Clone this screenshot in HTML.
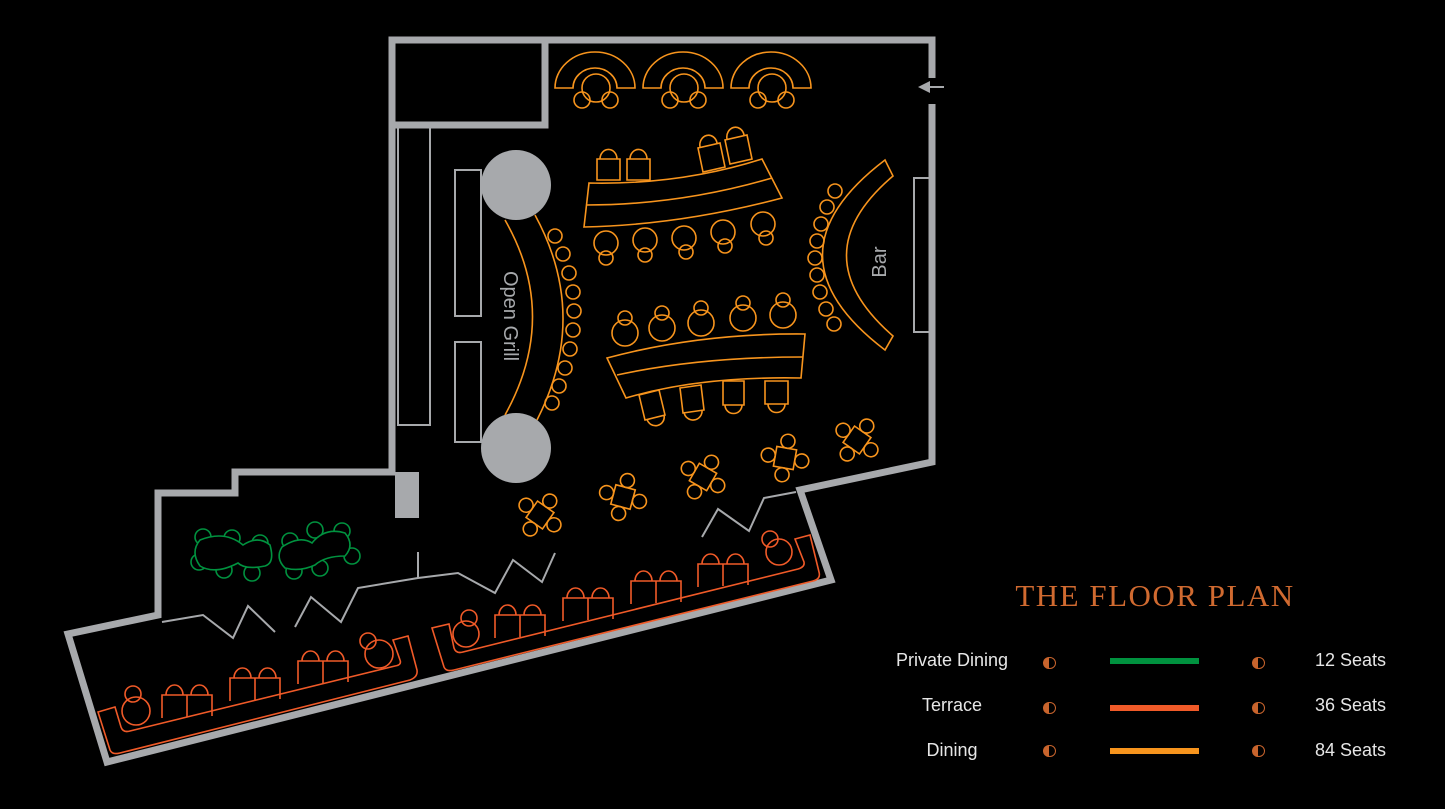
<!DOCTYPE html>
<html><head><meta charset="utf-8"><style>
html,body{margin:0;padding:0;background:#000;}
svg{display:block}
</style></head><body>
<svg width="1445" height="809" viewBox="0 0 1445 809" xmlns="http://www.w3.org/2000/svg">
<defs>
<g id="four"><rect x="-10" y="-10" width="20" height="20"/><circle cx="0" cy="-17" r="7"/><circle cx="0" cy="17" r="7"/><circle cx="-17" cy="0" r="7"/><circle cx="17" cy="0" r="7"/></g>
<g id="pair"><path d="M0,23 L0,0 L25,0 L25,22 M25,0 L50,0 L50,21 M4,0 A8.5,10 0 0 1 21,0 M29,0 A8.5,10 0 0 1 46,0"/></g>
</defs>
<rect width="1445" height="809" fill="#000"/>
<!-- walls -->
<g fill="none" stroke="#a7a9ac" stroke-width="7" stroke-linejoin="miter">
<path d="M932,78 L932,40 L392,40 L392,472 L235,472 L235,493 L158,493 L158,615 L68,634 L107,762 L831,580 L800,490 L932,462 L932,104"/>
<path d="M392,125 L545,125 L545,40"/>
</g>
<rect x="395" y="472" width="24" height="46" fill="#a7a9ac"/>
<g fill="none" stroke="#a7a9ac" stroke-width="2">
<rect x="398" y="126" width="32" height="299"/>
<rect x="455" y="170" width="26" height="146"/>
<rect x="455" y="342" width="26" height="100"/>
<rect x="914" y="178" width="18" height="154"/>
<path d="M162,622 L203,615 L233,638 L248,606 L275,632"/>
<path d="M295,627 L311,597 L341,622 L358,588 L418,578 L458,573 L495,593 L513,560 L542,582 L555,553"/>
<path d="M418,552 L418,578"/>
<path d="M702,537 L718,509 L749,531 L764,498 L796,492"/>
<path d="M944,87 L922,87"/>
</g>
<path d="M918,87 L930,81 L930,93 Z" fill="#a7a9ac"/>
<circle cx="516" cy="185" r="35" fill="#a7a9ac"/>
<circle cx="516" cy="448" r="35" fill="#a7a9ac"/>
<text x="0" y="0" transform="translate(504,316) rotate(90)" text-anchor="middle" font-family="Liberation Sans, sans-serif" font-size="20" fill="#a7a9ac">Open Grill</text>
<text x="0" y="0" transform="translate(886,262) rotate(-90)" text-anchor="middle" font-family="Liberation Sans, sans-serif" font-size="20" fill="#a7a9ac">Bar</text>

<!-- dining orange -->
<g fill="none" stroke="#f7941d" stroke-width="1.6">
<path d="M505,220 Q560,316 505,415"/>
<path d="M535,215 Q590,316 537,420"/>
<circle cx="555" cy="236" r="7"/><circle cx="563" cy="254" r="7"/><circle cx="569" cy="273" r="7"/><circle cx="573" cy="292" r="7"/><circle cx="574" cy="311" r="7"/><circle cx="573" cy="330" r="7"/><circle cx="570" cy="349" r="7"/><circle cx="565" cy="368" r="7"/><circle cx="559" cy="386" r="7"/><circle cx="552" cy="403" r="7"/>
<path d="M885,160 Q760,255 885,350 L893,336 Q800,255 893,176 Z"/>
<circle cx="835" cy="191" r="7"/><circle cx="827" cy="207" r="7"/><circle cx="821" cy="224" r="7"/><circle cx="817" cy="241" r="7"/><circle cx="815" cy="258" r="7"/><circle cx="817" cy="275" r="7"/><circle cx="820" cy="292" r="7"/><circle cx="826" cy="309" r="7"/><circle cx="834" cy="324" r="7"/>
<g id="fan">
<path d="M555,88 A40,36 0 0 1 635,88 L617,88 A22,20 0 0 0 573,88 Z"/>
<circle cx="596" cy="88" r="14"/><circle cx="582" cy="100" r="8"/><circle cx="610" cy="100" r="8"/>
</g>
<use href="#fan" x="88"/><use href="#fan" x="176"/>
<path d="M589,183 Q680,185 762,159 L782,198 Q680,225 584,227 Z"/>
<path d="M586,205 Q680,205 772,178"/>
<path d="M597,180 L597,159 L620,159 L620,180 Z M600,159 A8,9 0 0 1 617,159"/>
<path d="M627,180 L627,159 L650,159 L650,180 Z M630,159 A8,9 0 0 1 647,159"/>
<path d="M703,172 L698,148 L720,143 L725,167 Z M700,147 A8,9 0 0 1 717,143"/>
<path d="M730,164 L725,140 L747,135 L752,159 Z M727,139 A8,9 0 0 1 744,135"/>
<circle cx="606" cy="243" r="12"/><circle cx="606" cy="258" r="7"/>
<circle cx="645" cy="240" r="12"/><circle cx="645" cy="255" r="7"/>
<circle cx="684" cy="238" r="12"/><circle cx="686" cy="252" r="7"/>
<circle cx="723" cy="232" r="12"/><circle cx="725" cy="246" r="7"/>
<circle cx="763" cy="224" r="12"/><circle cx="766" cy="238" r="7"/>
<path d="M607,358 Q700,333 805,334 L801,378 Q700,376 626,398 Z"/>
<path d="M617,375 Q700,357 803,357"/>
<circle cx="625" cy="318" r="7"/><circle cx="625" cy="333" r="13"/>
<circle cx="662" cy="313" r="7"/><circle cx="662" cy="328" r="13"/>
<circle cx="701" cy="308" r="7"/><circle cx="701" cy="323" r="13"/>
<circle cx="743" cy="303" r="7"/><circle cx="743" cy="318" r="13"/>
<circle cx="783" cy="300" r="7"/><circle cx="783" cy="315" r="13"/>
<path d="M639,395 L659,390 L665,415 L645,420 Z M647,419 A8,8 0 0 0 664,415"/>
<path d="M680,388 L701,385 L704,410 L683,413 Z M684,412 A8,8 0 0 0 702,410"/>
<path d="M723,381 L744,381 L744,405 L723,405 Z M725,405 A8,8 0 0 0 742,405"/>
<path d="M765,381 L788,381 L788,404 L765,404 Z M768,404 A8,8 0 0 0 785,404"/>
<g transform="translate(540,515) rotate(35)"><use href="#four"/></g>
<g transform="translate(623,497) rotate(15)"><use href="#four"/></g>
<g transform="translate(703,477) rotate(30)"><use href="#four"/></g>
<g transform="translate(785,458) rotate(10)"><use href="#four"/></g>
<g transform="translate(857,440) rotate(35)"><use href="#four"/></g>
</g>

<!-- private dining green -->
<g fill="none" stroke="#00923f" stroke-width="1.6">
<circle cx="203" cy="537" r="8"/><circle cx="232" cy="538" r="8"/><circle cx="260" cy="543" r="8"/>
<circle cx="199" cy="562" r="8"/><circle cx="224" cy="570" r="8"/><circle cx="252" cy="573" r="8"/>
<circle cx="290" cy="541" r="8"/><circle cx="315" cy="530" r="8"/><circle cx="342" cy="531" r="8"/><circle cx="352" cy="556" r="8"/>
<circle cx="294" cy="571" r="8"/><circle cx="320" cy="568" r="8"/>
<path d="M200,540 Q225,530 243,545 Q258,535 270,545 Q275,563 265,566 Q245,570 238,563 Q215,575 200,566 Q190,552 200,540 Z" fill="#000"/>
<path d="M282,547 Q300,535 312,543 Q325,527 345,533 Q355,545 345,556 Q325,556 315,565 Q300,572 285,568 Q275,558 282,547 Z" fill="#000"/>
</g>

<!-- terrace -->
<g fill="none" stroke="#f05a28" stroke-width="1.6">
<path d="M98,712 L110,750 Q112,755 120,753 L410,680 Q418,677 417,670 L408,636 L393,640 L400,660 Q402,665 395,666 L130,731 Q123,733 121,727 L115,707 Z"/>
<path d="M432,628 L444,667 Q446,672 454,670 L813,581 Q821,579 819,572 L810,535 L795,539 L804,562 Q805,567 798,569 L463,652 Q456,654 454,648 L449,624 Z"/>
<use href="#pair" x="162" y="695"/><use href="#pair" x="230" y="678"/><use href="#pair" x="298" y="661"/>
<use href="#pair" x="495" y="615"/><use href="#pair" x="563" y="598"/><use href="#pair" x="631" y="581"/><use href="#pair" x="698" y="564"/>
<circle cx="136" cy="711" r="14"/><circle cx="133" cy="694" r="8"/>
<circle cx="379" cy="654" r="14"/><circle cx="368" cy="641" r="8"/>
<circle cx="466" cy="634" r="13"/><circle cx="469" cy="618" r="8"/>
<circle cx="779" cy="552" r="13"/><circle cx="770" cy="539" r="8"/>
</g>

<!-- legend -->
<text x="1155" y="606" text-anchor="middle" font-family="Liberation Serif, serif" font-size="31" fill="#d06a30" letter-spacing="1.5">THE FLOOR PLAN</text>
<g font-family="Liberation Sans, sans-serif" font-size="18" fill="#e6e6e6">
<text x="952" y="666" text-anchor="middle">Private Dining</text>
<text x="952" y="711" text-anchor="middle">Terrace</text>
<text x="952" y="756" text-anchor="middle">Dining</text>
<text x="1386" y="666" text-anchor="end">12 Seats</text>
<text x="1386" y="711" text-anchor="end">36 Seats</text>
<text x="1386" y="756" text-anchor="end">84 Seats</text>
</g>
<rect x="1110" y="658" width="89" height="6" fill="#00923f"/>
<rect x="1110" y="705" width="89" height="6" fill="#f05a28"/>
<rect x="1110" y="748" width="89" height="6" fill="#f7941d"/>
<g fill="#c8642d">
<path d="M1049,657 A6,6 0 0 0 1049,669 Z"/><path d="M1258,657 A6,6 0 0 0 1258,669 Z"/>
<path d="M1049,702 A6,6 0 0 0 1049,714 Z"/><path d="M1258,702 A6,6 0 0 0 1258,714 Z"/>
<path d="M1049,745 A6,6 0 0 0 1049,757 Z"/><path d="M1258,745 A6,6 0 0 0 1258,757 Z"/>
</g>
<g fill="none" stroke="#c8642d" stroke-width="1">
<circle cx="1050" cy="663" r="5.5"/><circle cx="1259" cy="663" r="5.5"/>
<circle cx="1050" cy="708" r="5.5"/><circle cx="1259" cy="708" r="5.5"/>
<circle cx="1050" cy="751" r="5.5"/><circle cx="1259" cy="751" r="5.5"/>
</g>
</svg>
</body></html>
